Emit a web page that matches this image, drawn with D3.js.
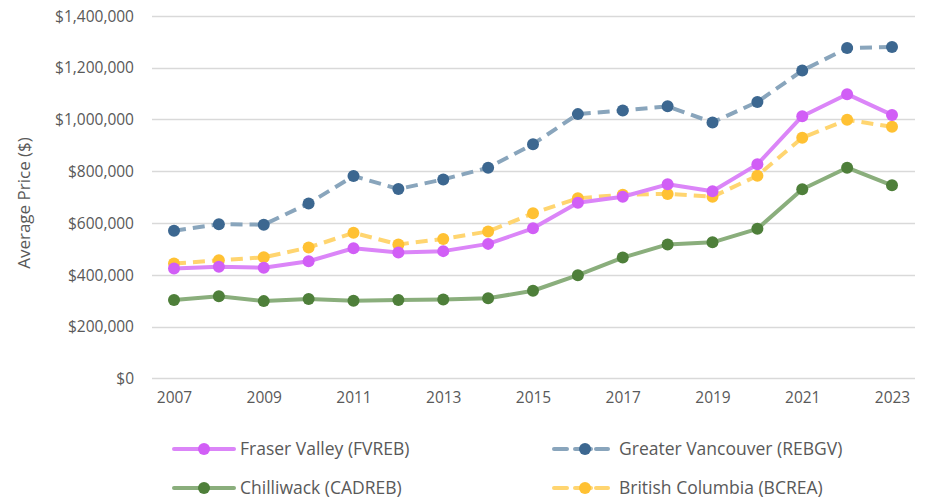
<!DOCTYPE html>
<html>
<head>
<meta charset="utf-8">
<script src="https://cdn.jsdelivr.net/npm/d3@7"></script>
<style>
  body { margin: 0; background: #fff; }
  text { font-family: 'Open Sans', sans-serif; fill: #595959; }
</style>
</head>
<body>
<script>
// data
var years = [2007, 2008, 2009, 2010, 2011, 2012, 2013, 2014, 2015, 2016, 2017, 2018, 2019, 2020, 2021, 2022, 2023];
var fraserValley = [424000, 431000, 427000, 452000, 502000, 486000, 491000, 519000, 579000, 678000, 701000, 749000, 722000, 826000, 1012000, 1097000, 1017000];
var greaterVancouver = [570000, 595000, 593000, 675000, 781000, 731000, 768000, 813000, 904000, 1020000, 1034000, 1050000, 988000, 1067000, 1188000, 1275000, 1279000];
var chilliwack = [302000, 317000, 298000, 306000, 299000, 302000, 304000, 309000, 338000, 398000, 466000, 517000, 525000, 577000, 730000, 813000, 745000];
var britishColumbia = [443000, 456000, 467000, 505000, 562000, 517000, 538000, 567000, 637000, 695000, 709000, 712000, 701000, 782000, 929000, 998000, 971000];
var yTicks = [0, 200000, 400000, 600000, 800000, 1000000, 1200000, 1400000];
var xTicks = [2007, 2009, 2011, 2013, 2015, 2017, 2019, 2021, 2023];

var series = [
  { name: 'Fraser Valley (FVREB)', values: fraserValley, line: '#db85f8', dot: '#d15ef6', dash: null },
  { name: 'Greater Vancouver (REBGV)', values: greaterVancouver, line: '#89a5bc', dot: '#3c6790', dash: '12,7' },
  { name: 'Chilliwack (CADREB)', values: chilliwack, line: '#8aae7c', dot: '#4e7f3a', dash: null },
  { name: 'British Columbia (BCREA)', values: britishColumbia, line: '#ffd570', dot: '#ffc133', dash: '12,7' }
];
// draw order: lines underneath as in the picture
var drawOrder = [1, 3, 0, 2];

var width = 928, height = 499;
var svg = d3.select('body').append('svg')
    .attr('width', width)
    .attr('height', height);

var xscale = d3.scaleLinear().domain([2007, 2023]).range([174, 892]);
var yscale = d3.scaleLinear().domain([0, 1400000]).range([378.3, 15.7]);

// grid lines
svg.append('g')
    .selectAll('line')
    .data(yTicks)
    .enter().append('line')
        .attr('x1', 152)
        .attr('x2', 915)
        .attr('y1', function (d) { return Math.round(yscale(d)) + 0.5; })
        .attr('y2', function (d) { return Math.round(yscale(d)) + 0.5; })
        .style('stroke', '#d9d9d9')
        .style('stroke-width', 1.3);

// y axis labels
var fmt = d3.format(',');
var yaxis = d3.axisLeft(yscale).tickValues(yTicks).tickSize(0).tickPadding(0)
    .tickFormat(function (d) { return '$' + fmt(d); });
var gy = svg.append('g')
    .attr('transform', 'translate(134,0)')
    .call(yaxis);
gy.select('.domain').remove();
gy.selectAll('text').style('font-size', '15.5px').attr('dy', '0.35em');

// x axis labels
var xaxis = d3.axisBottom(xscale).tickValues(xTicks).tickSize(0).tickPadding(0)
    .tickFormat(d3.format('d'));
var gx = svg.append('g')
    .attr('transform', 'translate(0,392)')
    .call(xaxis);
gx.select('.domain').remove();
gx.selectAll('text').style('font-size', '15.5px').attr('dy', '0.71em');

// axis title
svg.append('text')
    .attr('transform', 'translate(30,203) rotate(-90)')
    .attr('text-anchor', 'middle')
    .style('font-size', '17px')
    .text('Average Price ($)');

var line = d3.line()
    .x(function (d, i) { return xscale(years[i]); })
    .y(function (d) { return yscale(d); });

drawOrder.forEach(function (k) {
    var s = series[k];
    var g = svg.append('g');
    g.append('path')
        .datum(s.values)
        .attr('d', line)
        .style('fill', 'none')
        .style('stroke', s.line)
        .style('stroke-width', 4)
        .style('stroke-linejoin', 'round')
        .style('stroke-dasharray', s.dash);
    g.selectAll('circle')
        .data(s.values)
        .enter().append('circle')
            .attr('cx', function (d, i) { return xscale(years[i]); })
            .attr('cy', function (d) { return yscale(d); })
            .attr('r', 6)
            .style('fill', s.dot);
});

// legend
var legendPos = [[173, 449], [553, 449], [173, 488], [553, 488]];
series.forEach(function (s, i) {
    var p = legendPos[i];
    var g = svg.append('g').attr('transform', 'translate(' + p[0] + ',' + p[1] + ')');
    if (s.dash) {
        [[1, 14], [22, 38], [43, 55]].forEach(function (seg) {
            g.append('line').attr('x1', seg[0]).attr('x2', seg[1])
                .style('stroke', s.line).style('stroke-width', 4).style('stroke-linecap', 'round');
        });
        g.append('circle').attr('cx', 32).attr('r', 6).style('fill', s.dot);
    } else {
        g.append('line').attr('x1', 1).attr('x2', 61).style('stroke', s.line).style('stroke-width', 4).style('stroke-linecap', 'round');
        g.append('circle').attr('cx', 31).attr('r', 6).style('fill', s.dot);
    }
    g.append('text')
        .attr('x', s.dash ? 66 : 67)
        .attr('dy', '0.35em')
        .style('font-size', '17.5px')
        .text(s.name);
});
</script>
</body>
</html>
